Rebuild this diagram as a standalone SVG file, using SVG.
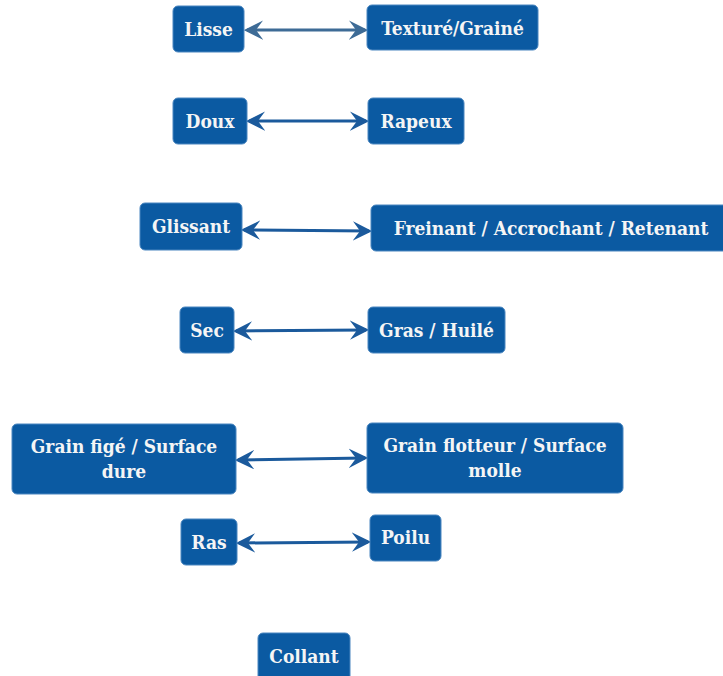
<svg xmlns="http://www.w3.org/2000/svg" width="723" height="676" viewBox="0 0 723 676">
<defs>
<style>
.n rect{fill:#0b5aa2;stroke:#4a86c0;stroke-width:1}
.n text{fill:#f5f5f5;font-family:"DejaVu Serif Condensed","DejaVu Serif",serif;font-stretch:condensed;font-weight:bold;font-size:19px;text-anchor:middle;dominant-baseline:central}
.c line{stroke:#1b5a9c;stroke-width:3;fill:none}
.c line.g{stroke:#3d6b96}
</style>
<marker id="ae" viewBox="0 0 12 12" refX="10" refY="6" markerWidth="6.5" markerHeight="6.5" orient="auto-start-reverse" markerUnits="strokeWidth">
<path d="M0,0 L12,6 L0,12 L4.5,6 Z" fill="#1b5a9c"/>
</marker>
<marker id="ag" viewBox="0 0 12 12" refX="10" refY="6" markerWidth="6.5" markerHeight="6.5" orient="auto-start-reverse" markerUnits="strokeWidth">
<path d="M0,0 L12,6 L0,12 L4.5,6 Z" fill="#3d6b96"/>
</marker>
</defs>
<rect width="723" height="676" fill="#ffffff"/>
<g class="c" id="connectors">
<line class="g" x1="247" y1="30" x2="365" y2="30" marker-start="url(#ag)" marker-end="url(#ag)"/>
<line x1="249" y1="121" x2="366" y2="121" marker-start="url(#ae)" marker-end="url(#ae)"/>
<line x1="244" y1="230" x2="369" y2="231" marker-start="url(#ae)" marker-end="url(#ae)"/>
<line x1="236" y1="331" x2="366" y2="330" marker-start="url(#ae)" marker-end="url(#ae)"/>
<line x1="238" y1="460" x2="365" y2="458" marker-start="url(#ae)" marker-end="url(#ae)"/>
<line x1="239" y1="543" x2="368" y2="542" marker-start="url(#ae)" marker-end="url(#ae)"/>
</g>
<g class="n" id="lisse"><rect x="173" y="6" width="71" height="46" rx="5"/><text x="208.5" y="29">Lisse</text></g>
<g class="n" id="texture"><rect x="367" y="5" width="171" height="45" rx="5"/><text x="452.5" y="27.5">Texturé/Grainé</text></g>
<g class="n" id="doux"><rect x="173" y="98" width="74" height="46" rx="5"/><text x="210" y="121">Doux</text></g>
<g class="n" id="rapeux"><rect x="368" y="98" width="96" height="46" rx="5"/><text x="416" y="121">Rapeux</text></g>
<g class="n" id="glissant"><rect x="140" y="203" width="102" height="47" rx="5"/><text x="191" y="226">Glissant</text></g>
<g class="n" id="freinant"><rect x="371" y="205" width="358" height="46" rx="5"/><text x="551" y="228">Freinant / Accrochant / Retenant</text></g>
<g class="n" id="sec"><rect x="180" y="307" width="54" height="46" rx="5"/><text x="207" y="330">Sec</text></g>
<g class="n" id="gras"><rect x="368" y="307" width="137" height="46" rx="5"/><text x="436.5" y="330">Gras / Huilé</text></g>
<g class="n" id="fige"><rect x="12" y="424" width="224" height="70" rx="5"/><text x="124" y="446">Grain figé / Surface</text><text x="124" y="471">dure</text></g>
<g class="n" id="flotteur"><rect x="367" y="423" width="256" height="70" rx="5"/><text x="495" y="445">Grain flotteur / Surface</text><text x="495" y="470">molle</text></g>
<g class="n" id="ras"><rect x="181" y="519" width="56" height="46" rx="5"/><text x="209" y="542">Ras</text></g>
<g class="n" id="poilu"><rect x="370" y="515" width="71" height="46" rx="5"/><text x="405.5" y="537">Poilu</text></g>
<g class="n" id="collant"><rect x="258" y="633" width="92" height="50" rx="5"/><text x="304" y="656">Collant</text></g>
</svg>
